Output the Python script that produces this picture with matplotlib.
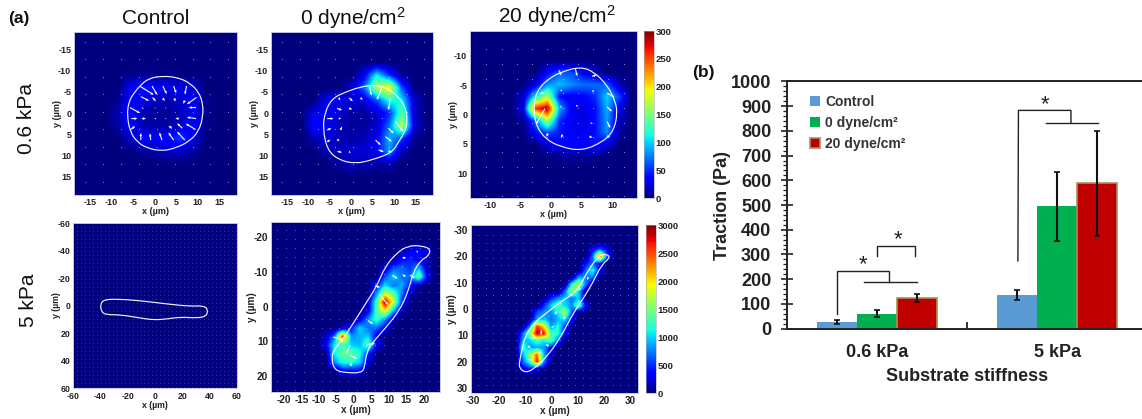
import numpy as np
import matplotlib
matplotlib.use("Agg")
import matplotlib.pyplot as plt
from matplotlib.patches import PathPatch
from matplotlib.path import Path
from matplotlib.ticker import MultipleLocator

plt.rcParams['font.family'] = ['Liberation Sans', 'DejaVu Sans']
plt.rcParams['mathtext.default'] = 'regular'
plt.rcParams['axes.unicode_minus'] = False

W, H = 1142, 419

# bar chart, panel (b)
stiffness = ['0.6 kPa', '5 kPa']
treatments = ['Control', '0 dyne/cm²', '20 dyne/cm²']
control = [27, 137]
dyne_0 = [60, 495]
dyne_20 = [125, 588]
err_low = {'control': [18, 116], 'dyne_0': [46, 354], 'dyne_20': [109, 375]}
err_high = {'control': [35, 156], 'dyne_0': [73, 635], 'dyne_20': [139, 799]}

# significance brackets, as (x list, y list) in bar chart data units
brackets = [
    ([-0.218, -0.218, 0.07, 0.07], [59, 233, 233, 187]),
    ([-0.07, 0.222], [187, 187]),
    ([0.0, 0.0, 0.212, 0.212], [295, 336, 336, 295]),
    ([0.782, 0.785, 1.076, 1.076], [274, 883, 883, 834]),
    ([0.935, 1.227], [834, 834]),
]
stars = [(-0.078, 260), (0.116, 361), (0.932, 907)]

# traction grids: (row, first column, values), everything else is 0
grid_a1 = [
    (3, 4, [3, 6, 4, 4, 2]),
    (4, 4, [35, 45, 40, 30, 30, 25]),
    (5, 3, [4, 40, 30, 14, 12, 22, 35, 4]),
    (6, 3, [14, 38, 15, 6, 6, 15, 32, 4]),
    (7, 3, [10, 35, 14, 8, 10, 22, 40, 4]),
    (8, 4, [20, 35, 35, 40, 55, 30]),
    (9, 5, [8, 12, 20, 22, 8]),
]
grid_a2 = [
    (3, 7, [30, 110, 50, 5]),
    (4, 6, [20, 70, 170, 200, 60]),
    (5, 4, [35, 30, 25, 25, 60, 120, 110, 20]),
    (6, 3, [30, 40, 20, 8, 8, 20, 50, 140, 20]),
    (7, 3, [40, 35, 15, 8, 8, 20, 70, 175, 25]),
    (8, 3, [15, 25, 15, 10, 15, 30, 90, 60, 5]),
    (9, 4, [15, 15, 22, 22, 35, 85, 15]),
    (10, 5, [10, 20, 15, 10, 12]),
]
grid_a3 = [
    (3, 6, [35, 65, 60, 35, 15]),
    (4, 5, [25, 80, 95, 80, 70, 70, 65, 15]),
    (5, 4, [20, 110, 170, 40, 30, 35, 50, 100, 60]),
    (6, 4, [30, 260, 290, 90, 30, 25, 40, 90, 30]),
    (7, 4, [5, 70, 170, 50, 30, 25, 40, 85, 15]),
    (8, 5, [40, 60, 45, 30, 30, 40, 80, 10]),
    (9, 6, [25, 35, 35, 35, 45, 25]),
    (10, 7, [5, 8, 8, 5]),
]
grid_a4 = [(1, 1, [6])]
grid_a5 = [
    (3, 15, [150, 300, 350, 250]),
    (4, 14, [100, 350, 500, 300, 150]),
    (5, 13, [200, 600, 700, 500, 900, 150]),
    (6, 13, [600, 1000, 700, 700, 1500, 300]),
    (7, 12, [400, 1000, 700, 900, 400, 100]),
    (8, 12, [800, 1800, 1400, 700, 150]),
    (9, 11, [200, 1300, 2900, 1800, 500]),
    (10, 11, [300, 1300, 2000, 900, 100]),
    (11, 10, [250, 800, 1300, 800, 100]),
    (12, 8, [100, 400, 1000, 700, 700, 350]),
    (13, 6, [150, 700, 2600, 800, 900, 1000, 250]),
    (14, 6, [300, 1100, 1300, 1000, 900, 1400, 400]),
    (15, 7, [1100, 1400, 1400, 1200, 500]),
    (16, 7, [800, 1200, 1200, 1000, 200]),
    (17, 8, [400, 400, 400]),
]
grid_a6 = [
    (3, 17, [300, 700, 300]),
    (4, 17, [700, 2500, 700]),
    (5, 16, [400, 700, 400]),
    (6, 16, [700, 1200, 300]),
    (7, 15, [900, 800, 700]),
    (8, 14, [1200, 1800, 700]),
    (9, 13, [700, 1700, 1000]),
    (10, 11, [500, 800, 1000, 700, 1000]),
    (11, 10, [500, 1000, 1400, 1000, 800, 1500, 300]),
    (12, 9, [600, 800, 800, 1100, 1700, 600]),
    (13, 9, [900, 1000, 700, 900, 1100, 300]),
    (14, 8, [800, 2600, 2000, 800, 1200, 500]),
    (15, 7, [700, 1600, 2900, 2700, 1300, 1200, 400]),
    (16, 7, [900, 1000, 1300, 1100, 1400, 700]),
    (17, 7, [1300, 800, 900, 800, 400]),
    (18, 7, [900, 1600, 2400, 900, 200]),
    (19, 7, [700, 1300, 2700, 800]),
    (20, 7, [300, 500, 300]),
]

# cell outlines in um
outline_a1_x = [-6.4, -6.0, -4.9, -3.3, -1.4, 1.7, 5.6, 8.3, 10.2, 11.2, 11.2, 10.2, 7.9, 4.8, 1.7, -1.8, -4.1, -5.7]
outline_a1_y = [0.5, -2.7, -4.6, -6.6, -8.2, -8.8, -8.4, -7.0, -5.0, -2.3, 0.9, 4.4, 6.8, 8.3, 9.0, 8.3, 6.8, 4.4]
outline_a2_x = [-6.6, -6.1, -4.4, -1.3, 2.2, 4.9, 8.0, 11.1, 13.0, 13.0, 11.1, 9.5, 4.9, 1.0, -2.9, -5.6]
outline_a2_y = [3.6, -0.3, -3.5, -5.0, -6.2, -6.6, -6.2, -3.9, -0.7, 3.6, 6.8, 9.4, 11.1, 12.0, 11.1, 8.7]
outline_a3_x = [-2.9, -2.3, -0.4, 1.8, 4.8, 7.0, 9.2, 10.5, 10.9, 10.3, 8.6, 5.1, 1.5, -1.0, -2.5]
outline_a3_y = [-1.3, -4.1, -6.1, -7.3, -8.1, -7.3, -5.0, -2.4, -0.2, 2.7, 4.6, 6.2, 5.5, 4.1, 1.8]
outline_a4_x = [-40, -37.6, -27.8, -10.7, 8.8, 25.9, 35.6, 38.8, 37.6, 30.7, 18.5, 8.8, -1, -10.7, -25.4, -36.3, -39.3]
outline_a4_y = [-0.6, -4.2, -4.7, -3.5, -1.1, 0.6, 0.1, 3, 7.9, 9.1, 8.4, 9.8, 10.5, 9.1, 6.7, 6.7, 4.2]
outline_a5_x = [-5.4, -6.4, -5.9, -3, -0.2, 3.1, 6.5, 8.9, 12.2, 15.5, 19.3, 22, 21.2, 19.3, 17, 15.5, 13.1, 9.3, 5.5, 3.6, 3.1, 2.2, -2.1]
outline_a5_y = [18.3, 15.4, 12.5, 9.1, 4.8, -0.5, -5.8, -11.5, -15.4, -17.5, -17.5, -16.5, -14.4, -13.5, -10.1, -4.3, 1, 5.8, 10.1, 13, 17.3, 19, 19]
outline_a6_x = [-12.4, -11.4, -10.2, -7, -0.6, 4.4, 9.5, 13.3, 17.1, 19.7, 22.8, 19, 15.9, 12.1, 8.2, 3.2, -1.9, -7, -10.2, -12.3]
outline_a6_y = [20.7, 15.7, 10.6, 5.5, 0.4, -3.4, -6.5, -13.5, -19.2, -21.1, -19.9, -16.7, -10.3, -4, 1.7, 11.2, 18.2, 23, 24.2, 22.3]

# traction arrows in um: x, y, u, v
arrows_a1 = [
    (-3.3, -6.3, 3.1, 2.0), (-0.6, -6.4, 1.2, 2.1), (1.9, -6.4, 0.9, 1.9), (4.4, -6.4, 0.6, 1.7), (7.4, -6.4, -0.4, 2.0),
    (-3.2, -3.9, 1.9, 1.0), (-0.5, -3.7, 0.8, 0.9), (1.9, -3.5, 0.5, 0.6), (4.6, -3.5, 0.2, 0.8), (9.7, -3.7, -2.2, 1.6),
    (7.0, -3.0, -0.4, 0.8), (-5.7, -1.3, 2.3, 1.3), (9.6, -1.3, -1.7, 0), (-5.4, 1.3, 1.4, 0), (-2.9, 1.3, 0.9, 0),
    (9.6, 1.3, -2.1, -0.3), (5.6, 1.3, -0.8, 0), (-5.7, 4, 1.2, -0.9), (9.5, 3.9, -2.3, -1.4), (6.4, 3.6, -1.2, -1.2),
    (4.0, 3.6, -0.8, -0.6), (-3.2, 6.4, 0, -1.7), (-0.9, 6.4, -0.2, -1.6), (1.7, 6.4, -0.6, -1.8), (4.4, 6.4, -1.2, -1.8),
    (7, 6.4, -1.8, -2), (-2.9, -1.2, 0.4, 0.1), (0, -1.2, 0.3, 0), (2.4, -1.2, 0.3, 0), (0, 1.3, 0.4, 0), (2.4, 1.3, 0.3, 0),
]
arrows_a2 = [
    (4.3, -6.2, 0.4, 2), (7.2, -6.2, -1.2, 3.1), (-2.9, -3.6, 0.4, 0.6), (-0.5, -3.6, 0.9, 0.8), (2.2, -3.6, 0.5, 0.5),
    (9.1, -3.5, -0.4, 2.8), (10.3, 2, 1.9, 2.4), (-3.3, -1.1, 1.2, 0.4), (-0.5, -1.1, 0.8, 0.2), (-5.6, 1.3, 1.5, 0),
    (-2.9, 1.3, 0.6, 0), (-5.6, 4, 1, -0.4), (-2.5, 4, 0.4, -0.8), (-5.6, 6.8, 0.8, -0.5), (-3.2, 6.2, 0.5, 0.5),
    (8, 5.6, 1.5, 1.2), (5.7, 6.4, 1.2, 1.2), (-3.2, 9.1, 1.1, 0.2), (-0.5, 9.1, 0.4, 0.4), (6.4, 8.7, 1.2, 0.5),
    (8.7, 9, 0.8, 0.3), (8.7, 3.6, 1.2, 1.2), (2.2, 1.3, 0.3, 0), (4.8, 1.3, 0.3, 0), (7.2, 1.3, 0.3, 0),
]
arrows_a3 = [
    (1.3, -7.5, 0.4, 0.9), (4, -7.7, 0.3, 1.2), (6.7, -6.5, 0.8, -0.2), (-1.8, -3.6, 0.8, -0.1), (1.6, -4.2, 0.2, 0.3),
    (7, -4.1, -0.3, 0.3), (9.2, -3.6, 1.2, 0.6), (-1, -1, -1.5, 2.7), (1.5, -1.4, 0.3, 0.2), (4.2, -1.6, 0.1, 0.4),
    (9.2, -1.3, 0.8, 0.8), (9.2, 1.2, 0.5, 1.1), (6.5, 1.4, 0.3, 0.2), (-0.5, 3.2, -0.3, 0.6), (1.9, 3.4, -0.3, 0.6),
    (6.3, 3.7, 0.5, 0.3), (9.2, 3.7, 0.5, 0.1),
]
arrows_a5 = [
    (7.4, -3.4, 2.4, 2.9), (-5.9, 8.7, 2.9, 1), (-1.1, 11, -1, 2.4), (-1, 14, 1.9, 1), (-1, 17, 0.5, -1), (3.5, 11, 2.5, -0.5),
    (11, -9, 1.5, 1), (14, -9, 1, 0.3), (16, -9, 1.4, 0.8), (14, -14, 1, 0), (18, -16, 0.2, 0.6), (4, 4, 1.5, 1), (6, -6, 1.5, 0.5),
]
arrows_a6 = [
    (-4, 8, 0, 2), (-8, 11, 2, 0), (-9, 19, 2, 0.5), (-5, 16, 1, 1), (2, 1, -1, 1), (5, 3, -0.5, 1), (7, -6, 1, 1),
    (11, -8, -1, 1), (14, -12, -0.5, 1), (19, -19, -1, -0.5), (0, 7, 1, -0.5), (-9, 14, 1, 1), (-1, 14, -1.5, -0.5),
]


def make_grid(rows, n):
    grid = np.zeros((n, n))
    for row, col, values in rows:
        grid[row, col:col + len(values)] = values
    return grid


def px_axes(left, top, right, bottom):
    return fig.add_axes([left / W, 1 - bottom / H, (right - left) / W, (bottom - top) / H])


def outline_patch(ox, oy):
    # closed quadratic curve with the read points as control points
    pts = np.column_stack([ox, oy])
    mids = (pts + np.roll(pts, -1, axis=0)) / 2
    verts = [mids[-1]]
    codes = [Path.MOVETO]
    for p, m in zip(pts, mids):
        verts += [p, m]
        codes += [Path.CURVE3, Path.CURVE3]
    return PathPatch(Path(verts, codes), facecolor='none', edgecolor='white', lw=0.85, alpha=0.95)


def heat_panel(box, xlim, ylim, rows, n, vmax, ox, oy, arrows, step, dots_from, ticks, size, xl_pad=0, dot_alpha=0.6, x_pad=2):
    ax = px_axes(*box)
    ext = [xlim[0], xlim[1], ylim[1], ylim[0]]
    im = ax.imshow(make_grid(rows, n), cmap='jet', vmin=0, vmax=vmax, extent=ext, interpolation='bilinear', aspect='auto')
    ax.set_xlim(xlim)
    ax.set_ylim(ylim[1], ylim[0])
    # zero-length traction vectors show up as a lattice of dots
    gx, gy = np.meshgrid(np.arange(dots_from[0], xlim[1], step), np.arange(dots_from[1], ylim[1], step))
    ax.scatter(gx, gy, s=0.6, c='white', alpha=dot_alpha, linewidths=0)
    ax.add_patch(outline_patch(ox, oy))
    if arrows:
        a = np.array(arrows, dtype=float)
        ax.quiver(a[:, 0], a[:, 1], a[:, 2], a[:, 3], angles='xy', scale_units='xy', scale=1, units='dots',
                  width=1.1, headwidth=2.6, headlength=3, headaxislength=2.6, color='white', minlength=0.3)
    ax.set_xticks(ticks[0])
    ax.set_yticks(ticks[1])
    ax.tick_params(length=0, pad=2, labelsize=size, labelcolor='#222222')
    ax.tick_params(axis='x', pad=x_pad)
    for lab in ax.get_xticklabels() + ax.get_yticklabels():
        lab.set_fontweight('bold')
    ax.set_xlabel('x (µm)', fontsize=size, fontweight='bold', labelpad=xl_pad, color='#222222')
    ax.set_ylabel('y (µm)', fontsize=size, fontweight='bold', labelpad=-2.5, color='#222222')
    for s in ax.spines.values():
        s.set_color('#c5c8dc')
        s.set_linewidth(0.7)
    return ax, im


def colorbar(im, box, ticks):
    cax = px_axes(*box)
    cb = fig.colorbar(im, cax=cax, ticks=ticks)
    cb.ax.tick_params(length=0, pad=1, labelsize=6.8, labelcolor='#222222')
    for lab in cb.ax.get_yticklabels():
        lab.set_fontweight('bold')
    cb.outline.set_linewidth(0.4)
    cb.outline.set_edgecolor('#aaaaaa')


fig = plt.figure(figsize=(W / 100, H / 100), dpi=100, facecolor='white')

t15 = [-15, -10, -5, 0, 5, 10, 15]
t10 = [-10, -5, 0, 5, 10]
t60 = [-60, -40, -20, 0, 20, 40, 60]
t20x = [-20, -15, -10, -5, 0, 5, 10, 15, 20]
t20y = [-20, -10, 0, 10, 20]
t30 = [-30, -20, -10, 0, 10, 20, 30]

ax1, im = heat_panel((74, 32, 237, 195), (-18.7, 19.1), (-19.2, 19.4), grid_a1, 13, 300,
                     outline_a1_x, outline_a1_y, arrows_a1, 4.15, (-16.1, -16.9), (t15, t15), 6.5, 0.5)
ax2, im = heat_panel((271, 32, 433, 195), (-18.7, 19.1), (-19.2, 19.4), grid_a2, 13, 300,
                     outline_a2_x, outline_a2_y, arrows_a2, 4.15, (-16.1, -16.9), (t15, t15), 6.5, 0.5)
ax3, im3 = heat_panel((470, 31, 637, 198), (-13.3, 14.1), (-14.2, 14.2), grid_a3, 14, 300,
                      outline_a3_x, outline_a3_y, arrows_a3, 2.5, (-10.6, -11.1), (t10, t10), 6.5, 0.5)
ax4, im = heat_panel((73, 223, 237, 388), (-60, 60), (-60, 60), grid_a4, 3, 3000,
                     outline_a4_x, outline_a4_y, None, 2.9, (-57, -57), (t60, t60), 6.3, 0, dot_alpha=0.22, x_pad=3)
ax5, im = heat_panel((271, 222, 440, 392), (-23.7, 24.6), (-24.3, 24.5), grid_a5, 20, 3000,
                     outline_a5_x, outline_a5_y, arrows_a5, 2.55, (-22, -22), (t20x, t20y), 7.2, 0, dot_alpha=0.4)
ax6, im6 = heat_panel((471, 225, 638, 393), (-30.8, 33), (-31.9, 31.9), grid_a6, 24, 3000,
                      outline_a6_x, outline_a6_y, arrows_a6, 2.85, (-28, -28), (t30, t30), 7.2, 0, dot_alpha=0.4)

colorbar(im3, (644, 31, 654, 198), [0, 50, 100, 150, 200, 250, 300])
colorbar(im6, (646, 225, 656, 393), [0, 500, 1000, 1500, 2000, 2500, 3000])

# extra text around panel (a)
fig.text(156 / W, 1 - 24 / H, 'Control', fontsize=15, ha='center', va='baseline', color='#111111')
fig.text(353 / W, 1 - 25 / H, '0 dyne/cm$^2$', fontsize=15, ha='center', va='baseline', color='#111111')
fig.text(557 / W, 1 - 23 / H, '20 dyne/cm$^2$', fontsize=15, ha='center', va='baseline', color='#111111')
fig.text(27 / W, 1 - 118 / H, '0.6 kPa', fontsize=15, rotation=90, ha='center', va='center', color='#111111')
fig.text(29 / W, 1 - 300 / H, '5 kPa', fontsize=15, rotation=90, ha='center', va='center', color='#111111')
fig.text(19 / W, 1 - 18 / H, '(a)', fontsize=12.5, fontweight='bold', ha='center', va='center', color='#111111')
fig.text(703 / W, 1 - 73 / H, '(b)', fontsize=12.5, fontweight='bold', ha='center', va='center', color='#111111')

# panel (b)
ax = px_axes(786.5, 81.5, 1147.5, 328.5)
x = np.arange(len(stiffness))
bw = 0.2218
b1 = ax.bar(x - bw, control, bw, color='#5B9BD5', label=treatments[0])
b2 = ax.bar(x, dyne_0, bw, color='#00B050', label=treatments[1])
b3 = ax.bar(x + bw, dyne_20, bw, color='#C00000', edgecolor='#A5915F', linewidth=1.2, label=treatments[2])
for offset, vals, key in [(-bw, control, 'control'), (0, dyne_0, 'dyne_0'), (bw, dyne_20, 'dyne_20')]:
    mid = np.array(vals, dtype=float)
    low = mid - np.array(err_low[key])
    high = np.array(err_high[key]) - mid
    ax.errorbar(x + offset, mid, yerr=[low, high], fmt='none', ecolor='#111111', elinewidth=1.5, capsize=2.4, capthick=1.2)

for bx, by in brackets:
    ax.plot(bx, by, color='#222222', lw=1.0, solid_joinstyle='miter')
for sx, sy in stars:
    ax.text(sx, sy, '*', fontsize=16, ha='center', va='center', color='#222222')

ax.set_xlim(-0.5, 1.5)
ax.set_ylim(0, 1000)
ax.set_xticks([0, 1])
ax.set_xticklabels(stiffness, fontsize=13, fontweight='bold', color='#222222')
ax.set_xticks([0.5], minor=True)
ax.tick_params(axis='x', which='major', length=0, pad=11)
ax.tick_params(axis='x', which='minor', direction='in', length=5, width=1.3, color='#222222')
ax.yaxis.set_major_locator(MultipleLocator(100))
ax.yaxis.set_minor_locator(MultipleLocator(20))
ax.tick_params(axis='y', which='major', direction='inout', length=8, width=1.2, labelsize=13, pad=7, color='#222222', labelcolor='#222222')
ax.tick_params(axis='y', which='minor', direction='out', length=3, width=0.9, color='#222222')
for lab in ax.get_yticklabels():
    lab.set_fontweight('bold')
for s in ax.spines.values():
    s.set_color('#222222')
    s.set_linewidth(1.4)
ax.set_xlabel('Substrate stiffness', fontsize=13, fontweight='bold', labelpad=5.5, color='#222222')
ax.set_ylabel('Traction (Pa)', fontsize=13, fontweight='bold', labelpad=0, color='#222222')
ax.legend(handles=[b1, b2, b3], loc='upper left', bbox_to_anchor=(0.065, 0.945), frameon=False, handlelength=0.7,
          handleheight=0.7, handletextpad=0.4, labelspacing=0.5, borderpad=0, borderaxespad=0,
          prop={'weight': 'bold', 'size': 10}, labelcolor='#333333')

fig.savefig('out.png', dpi=100, facecolor='white')
